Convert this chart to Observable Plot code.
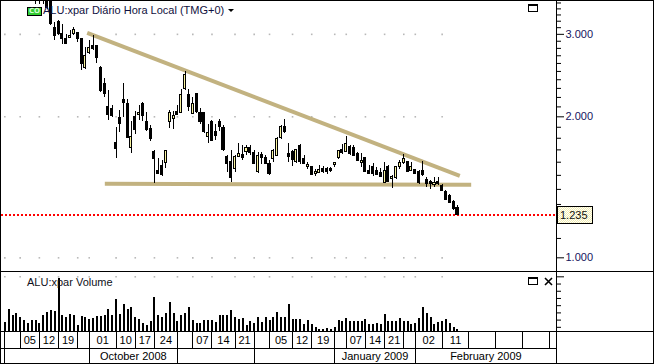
<!DOCTYPE html>
<html>
<head>
<meta charset="utf-8">
<script src="https://cdn.jsdelivr.net/npm/d3@7"></script>
<script src="https://cdn.jsdelivr.net/npm/@observablehq/plot@0.6"></script>
<style>
  html, body { margin: 0; padding: 0; background: #fff; }
  #wrap { position: relative; width: 654px; height: 364px; overflow: hidden; background: #fff;
          font-family: "Liberation Sans", Arial, sans-serif; font-size: 11px; color: #000; }
  .ln { position: absolute; background: #000; }
  .txt { position: absolute; white-space: nowrap; line-height: 13px; }
</style>
</head>
<body>
<div id="wrap"></div>
<script>
// ---------------- DATA ----------------
// Daily bars, index 0 = 1 Sep 2008 ... 118 = 17 Feb 2009
const opens = [4.10,4.05,3.98,4.00,3.92,3.86,3.90,3.78,3.70,3.62,3.66,3.58,3.56,3.096,3.189,3.011,2.929,2.944,3.002,3.017,
2.929,2.54,2.734,2.834,2.834,2.54,2.348,2.10,2.082,1.757,1.993,2.174,2.134,1.714,2.00,2.015,2.128,1.952,1.882,1.684,
1.533,1.572,1.597,1.945,1.983,2.049,2.037,2.29,2.225,2.026,2.235,2.042,2.036,1.815,1.945,1.852,1.952,1.897,1.638,1.603,
1.546,1.643,1.659,1.686,1.714,1.678,1.522,1.657,1.632,1.585,1.624,1.651,1.806,1.904,1.665,1.686,1.605,1.734,1.624,1.559,
1.559,1.509,1.52,1.546,1.546,1.551,1.577,1.633,1.70,1.686,1.728,1.714,1.665,1.593,1.63,1.533,1.564,1.533,1.52,1.447,
1.564,1.472,1.48,1.559,1.59,1.598,1.533,1.54,1.528,1.533,1.467,1.452,1.43,1.452,1.424,1.383,1.356,1.317,1.275];
const highs = [4.18,4.12,4.06,4.08,3.98,3.95,3.96,3.84,3.76,3.70,3.72,3.64,3.60,3.178,3.205,3.143,3.002,3.051,3.10,3.02,
2.93,2.81,2.915,2.99,2.84,2.56,2.41,2.272,2.11,1.90,2.059,2.355,2.174,1.952,2.049,2.117,2.145,2.042,1.913,1.692,
1.63,1.611,1.692,2.066,2.049,2.110,2.29,2.497,2.29,2.20,2.235,2.086,2.04,1.93,1.961,1.93,1.977,1.913,1.651,1.692,
1.651,1.751,1.734,1.734,1.734,1.692,1.678,1.678,1.651,1.611,1.706,1.806,1.913,1.977,1.751,1.692,1.70,1.748,1.651,1.60,
1.567,1.546,1.575,1.567,1.559,1.559,1.598,1.698,1.742,1.812,1.74,1.734,1.678,1.673,1.638,1.577,1.59,1.559,1.555,1.60,
1.577,1.496,1.564,1.617,1.665,1.606,1.598,1.546,1.538,1.606,1.484,1.465,1.484,1.484,1.436,1.39,1.363,1.328,1.291];
const lows = [3.98,3.92,3.93,3.88,3.80,3.82,3.74,3.62,3.47,3.47,3.47,3.39,3.127,2.915,2.99,2.858,2.850,2.938,2.99,2.88,
2.517,2.519,2.72,2.765,2.60,2.254,2.199,1.961,1.99,1.63,1.853,1.993,1.80,1.67,1.835,1.961,1.952,1.858,1.771,1.44,
1.508,1.489,1.555,1.89,1.88,2.009,2.03,2.277,2.049,2.02,2.03,1.93,1.845,1.753,1.771,1.777,1.858,1.69,1.52,1.447,
1.52,1.637,1.615,1.651,1.651,1.58,1.51,1.585,1.58,1.496,1.598,1.65,1.792,1.845,1.598,1.564,1.59,1.58,1.58,1.541,
1.496,1.489,1.513,1.513,1.508,1.52,1.559,1.625,1.665,1.678,1.657,1.643,1.606,1.559,1.52,1.503,1.489,1.496,1.484,1.442,
1.447,1.408,1.472,1.546,1.585,1.52,1.528,1.503,1.436,1.49,1.412,1.40,1.412,1.424,1.383,1.323,1.306,1.265,1.23];
const closes = [4.05,3.98,4.02,3.94,3.85,3.90,3.80,3.70,3.60,3.66,3.58,3.42,3.153,2.977,3.002,2.929,2.866,2.977,3.066,2.929,
2.598,2.698,2.80,2.797,2.667,2.272,2.236,2.016,2.009,1.709,1.935,2.139,1.806,1.812,1.876,2.042,2.009,1.876,1.791,1.624,
1.513,1.503,1.692,2.033,2.009,2.016,2.225,2.455,2.10,2.134,2.052,1.945,1.853,1.846,1.777,1.821,1.904,1.698,1.585,1.479,
1.638,1.67,1.632,1.714,1.673,1.585,1.651,1.632,1.589,1.508,1.692,1.797,1.904,1.852,1.643,1.619,1.697,1.598,1.585,1.58,
1.503,1.528,1.54,1.525,1.525,1.533,1.594,1.692,1.678,1.748,1.665,1.651,1.611,1.611,1.528,1.513,1.508,1.503,1.489,1.533,
1.455,1.491,1.559,1.59,1.625,1.528,1.559,1.513,1.447,1.50,1.436,1.436,1.447,1.436,1.39,1.33,1.312,1.271,1.235];
// volume (millions of shares)
const volumes = [16.4,35.0,26.7,28.9,24.3,18.8,15.6,19.7,18.8,15.0,25.7,30.3,33.6,31.7,77.1,25.7,24.3,27.1,25.7,13.2,
24.7,24.3,21.1,22.5,24.7,24.7,26.1,35.0,25.7,48.9,28.1,41.0,35.0,37.3,24.3,21.1,15.6,13.2,17.8,51.2,
26.7,24.3,29.5,44.2,29.5,17.4,26.7,28.9,37.3,19.7,15.0,15.0,18.8,18.8,18.8,16.4,25.7,26.7,26.7,32.7,
24.3,21.1,22.0,13.2,17.4,15.0,23.4,16.4,23.4,19.7,23.4,30.3,24.3,24.3,41.0,20.2,20.2,20.2,14.2,18.8,
14.2,9.5,6.3,7.5,8.5,6.5,9.9,19.7,17.4,22.9,17.4,17.4,18.3,18.3,21.1,13.6,13.6,15.0,13.6,28.1,
17.4,17.4,18.3,22.0,17.4,18.3,13.6,15.0,22.9,36.8,28.9,24.3,14.2,16.0,18.3,21.1,15.0,9.5,6.7];

// date axis: week cells (start index, label) and month cells
const dayStarts = [0,4,9,14,19,22,29,34,39,45,49,54,60,65,69,75,80,86,89,94,99,104,107,114,121,128,135,142];
const dayLabels = ["","05","12","19","","01","10","17","24","","07","14","21","","05","12","19","","07","14","21","","02","11","","","",""];
const monthStarts = [0,22,45,65,86,107];
const monthLabels = ["","October 2008","","","January 2009","February 2009"];
const xExtent = [-0.87, 143.81];

// price axis
const priceDomain = [0.935, 3.543];
const minorPriceTicks = [1.1,1.2,1.3,1.4,1.5,1.6,1.7,1.8,1.9,2.1,2.2,2.3,2.4,2.5,2.6,2.7,2.8,2.9,3.1,3.2,3.3,3.4,3.5];
const majorPriceTicks = [1,2,3];
const volumeDomain = [4.2, 86];
const volumeTicks = [10,20,30,40,50,60,70];
const volumeMajorTicks = [80];

// trend lines (bar index, price)
const upperTrendI = [21.47, 118.6];
const upperTrendP = [3.023, 1.4965];
const lowerTrendI = [26.06, 121.57];
const lowerTrendP = [1.4388, 1.4317];

// ---------------- BUILD ----------------
const n = opens.length;
const bars = d3.range(n).map(i => ({i, open: opens[i], high: highs[i], low: lows[i], close: closes[i], volume: volumes[i]}));
const lastClose = closes[n - 1];
const upColor = "#f8f4a0";
const trendColor = "#c2b280";
const gridSeps = dayStarts.filter(d => d <= 114);
const gridPrice = gridSeps.flatMap(s => majorPriceTicks.map(p => ({i: s, p})));
const gridVol = gridSeps.map(s => ({i: s, v: volumeMajorTicks[0]}));
const upperTrend = upperTrendI.map((d, k) => ({i: d, p: upperTrendP[k]}));
const lowerTrend = lowerTrendI.map((d, k) => ({i: d, p: lowerTrendP[k]}));
const dayCells = dayStarts.map((s, k) => ({mid: (s + (k + 1 < dayStarts.length ? dayStarts[k + 1] : xExtent[1])) / 2, text: dayLabels[k]})).filter(d => d.text);
const monthCells = monthStarts.map((s, k) => ({mid: (s + (k + 1 < monthStarts.length ? monthStarts[k + 1] : xExtent[1])) / 2, text: monthLabels[k]})).filter(d => d.text);

const baseStyle = {background: "transparent", fontFamily: "'Liberation Sans', Arial, sans-serif", fontSize: "11px", overflow: "visible"};
const axisText = "#14145e";

const price = Plot.plot({
  width: 654, height: 271, marginLeft: 1, marginRight: 98, marginTop: 0, marginBottom: 0,
  style: baseStyle,
  x: {domain: xExtent, axis: null},
  y: {type: "log", domain: priceDomain},
  marks: [
    Plot.dot(gridPrice, {x: "i", y: "p", r: 0.9, symbol: "square", fill: "#b8b8b8", stroke: null}),
    Plot.ruleY([lastClose], {stroke: "#ff0000", strokeWidth: 2, strokeDasharray: "2,2"}),
    Plot.line(upperTrend, {x: "i", y: "p", stroke: trendColor, strokeWidth: 4, strokeLinecap: "butt", clip: true}),
    Plot.line(lowerTrend, {x: "i", y: "p", stroke: trendColor, strokeWidth: 4, strokeLinecap: "butt", clip: true}),
    Plot.ruleX(bars, {x: "i", y1: "low", y2: "high", stroke: "#000", strokeWidth: 1, clip: true, shapeRendering: "crispEdges"}),
    Plot.rect(bars, {x1: d => d.i - 0.27, x2: d => d.i + 0.27, y1: "open", y2: "close",
      fill: d => d.close >= d.open ? upColor : "#000", stroke: "#000", strokeWidth: 1, clip: true, shapeRendering: "crispEdges"}),
    Plot.axisY(minorPriceTicks, {anchor: "right", tickSize: 4, tickFormat: () => "", stroke: "#000"}),
    Plot.axisY(majorPriceTicks, {anchor: "right", tickSize: 7, tickPadding: 2, tickFormat: d => d.toFixed(3), fill: axisText, stroke: "#000"})
  ]
});

const volume = Plot.plot({
  width: 654, height: 59, marginLeft: 1, marginRight: 98, marginTop: 0, marginBottom: 0,
  style: baseStyle,
  x: {domain: xExtent, axis: null},
  y: {domain: volumeDomain},
  marks: [
    Plot.dot(gridVol, {x: "i", y: "v", r: 0.9, symbol: "square", fill: "#b8b8b8", stroke: null}),
    Plot.ruleX(bars, {x: "i", y1: 0, y2: "volume", stroke: "#000", strokeWidth: 2, clip: true, shapeRendering: "crispEdges"}),
    Plot.axisY(volumeTicks, {anchor: "right", tickSize: 4, tickFormat: () => "", stroke: "#000"}),
    Plot.axisY(volumeMajorTicks, {anchor: "right", tickSize: 7, tickFormat: () => "", stroke: "#000"})
  ]
});

const dates = Plot.plot({
  width: 654, height: 32, marginLeft: 1, marginRight: 98, marginTop: 0, marginBottom: 0,
  style: baseStyle,
  x: {domain: xExtent, axis: null},
  y: {domain: [0, 2], reverse: true, axis: null},
  marks: [
    Plot.ruleX(dayStarts, {x: d => d, y1: 0, y2: 1, stroke: "#000", shapeRendering: "crispEdges"}),
    Plot.ruleX(monthStarts, {x: d => d, y1: 1, y2: 2, stroke: "#000", shapeRendering: "crispEdges"}),
    Plot.ruleY([1], {stroke: "#000", shapeRendering: "crispEdges"}),
    Plot.text(dayCells, {x: "mid", y: 0.5, text: "text", fill: "#000", fontSize: 11}),
    Plot.text(monthCells, {x: "mid", y: 1.5, text: "text", fill: "#000", fontSize: 11})
  ]
});

const wrap = document.getElementById("wrap");
function place(el, top) {
  el.style.position = "absolute"; el.style.left = "0px"; el.style.top = top + "px";
  wrap.appendChild(el); return el;
}
place(price, 0);
place(volume, 272);
place(dates, 332);

function line(l, t, w, h) {
  const d = document.createElement("div"); d.className = "ln";
  Object.assign(d.style, {left: l + "px", top: t + "px", width: w + "px", height: h + "px"});
  wrap.appendChild(d);
}
line(0, 0, 654, 1);
line(0, 0, 1, 364);
line(653, 0, 1, 364);
line(0, 363, 654, 1);
line(556, 0, 1, 364);
line(0, 271, 654, 1);
line(0, 331, 654, 1);

function text(t, l, top, extra) {
  const d = document.createElement("div"); d.className = "txt"; d.textContent = t;
  Object.assign(d.style, {left: l + "px", top: top + "px"}, extra || {});
  wrap.appendChild(d); return d;
}
text("ALU:xpar Diário Hora Local (TMG+0)", 43, 4, {color: "#101040"});
text("ALU:xpar Volume", 27, 276, {color: "#101020"});

// "CO" badge
const badge = document.createElement("div");
Object.assign(badge.style, {position: "absolute", left: "27px", top: "7px", width: "15px", height: "9px", boxSizing: "border-box",
  border: "1px solid #000", background: "#33cc33", color: "#d6ffd6", fontSize: "7px", fontWeight: "bold", lineHeight: "7px",
  textAlign: "center", fontFamily: "'DejaVu Sans', sans-serif"});
badge.textContent = "CO";
wrap.appendChild(badge);

// dropdown arrow
const arrow = document.createElement("div");
Object.assign(arrow.style, {position: "absolute", left: "228px", top: "9px", width: "0", height: "0",
  borderLeft: "3px solid transparent", borderRight: "3px solid transparent", borderTop: "3px solid #000"});
wrap.appendChild(arrow);

// window icons
function winBox(l, t) {
  const b = document.createElement("div");
  Object.assign(b.style, {position: "absolute", left: l + "px", top: t + "px", width: "10px", height: "8px", boxSizing: "border-box",
    border: "1px solid #000", borderTop: "2px solid #000"});
  wrap.appendChild(b);
}
winBox(528, 4);
winBox(528, 277);
const x = document.createElementNS("http://www.w3.org/2000/svg", "svg");
x.setAttribute("width", "9"); x.setAttribute("height", "9");
Object.assign(x.style, {position: "absolute", left: "544px", top: "277px"});
x.innerHTML = '<path d="M1,1 L8,8 M8,1 L1,8" stroke="#000" stroke-width="1.6"/>';
wrap.appendChild(x);

// last price label (positioned with the plot's y scale)
const yLast = price.scale("y").apply(lastClose);
const lab = document.createElement("div");
Object.assign(lab.style, {position: "absolute", left: "557px", top: (yLast - 8.5) + "px", width: "36px", height: "18px",
  boxSizing: "border-box", border: "1px solid #000", lineHeight: "16px", paddingLeft: "2px", fontSize: "11px", color: "#111",
  background: "repeating-conic-gradient(#ffffff 0 25%, #f3eeb0 0 50%) 0 0 / 2px 2px"});
lab.textContent = lastClose.toFixed(3);
wrap.appendChild(lab);
</script>
</body>
</html>
